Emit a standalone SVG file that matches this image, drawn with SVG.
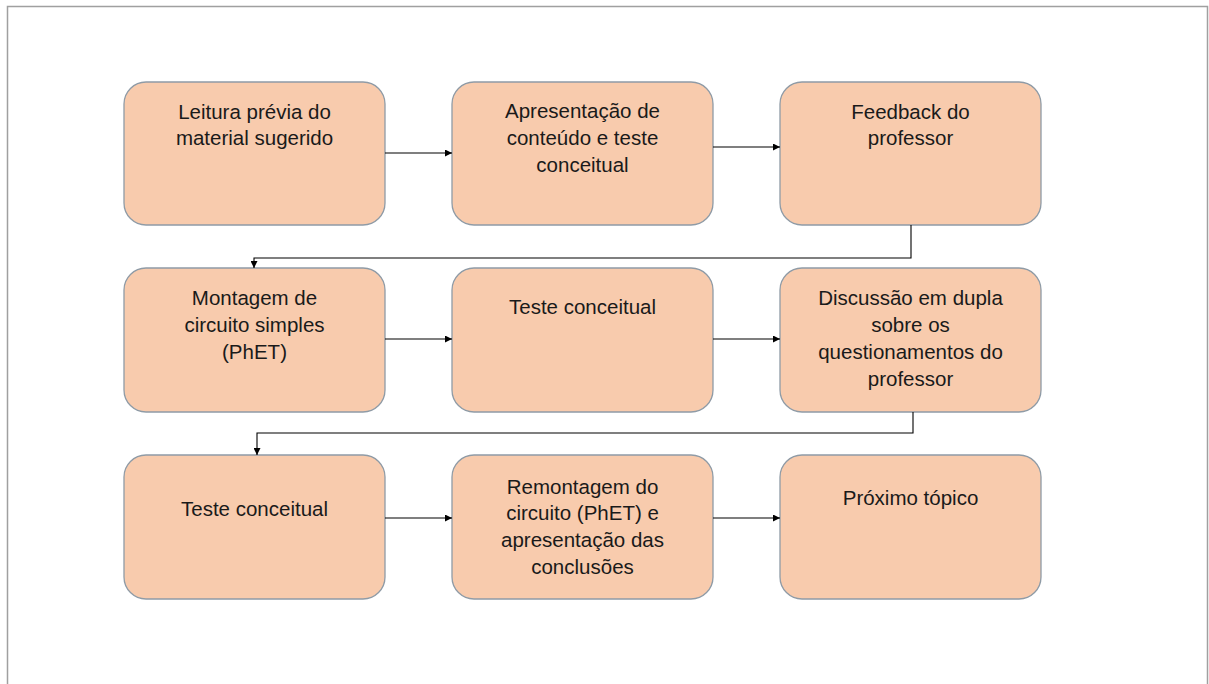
<svg xmlns="http://www.w3.org/2000/svg" width="1209" height="684" viewBox="0 0 1209 684">
<defs>
<style>
.n{fill:#F8CBAD;stroke:#8F9BA6;stroke-width:1.3}
.t{font-family:"Liberation Sans",Arial,sans-serif;font-size:20.5px;fill:#1a1a1a;text-anchor:middle}
.c{fill:none;stroke:#000;stroke-width:1.1}
</style>
<marker id="ah" viewBox="0 0 10 10" refX="10" refY="5" markerWidth="7" markerHeight="7" orient="auto" markerUnits="userSpaceOnUse"><path d="M0,0 L10,5 L0,10 z" fill="#000"/></marker>
</defs>
<rect x="0" y="0" width="1209" height="684" fill="#fff"/>
<path d="M7.5,690 V6.5 H1207.5 V690" fill="none" stroke="#A0A0A0" stroke-width="1.5"/>
<g id="n1"><rect class="n" x="124" y="82" width="261" height="143" rx="22"/><text class="t" x="254.5" y="119">Leitura prévia do</text><text class="t" x="254.5" y="145">material sugerido</text></g>
<g id="n2"><rect class="n" x="452" y="82" width="261" height="143" rx="22"/><text class="t" x="582.5" y="118">Apresentação de</text><text class="t" x="582.5" y="145">conteúdo e teste</text><text class="t" x="582.5" y="172">conceitual</text></g>
<g id="n3"><rect class="n" x="780" y="82" width="261" height="143" rx="22"/><text class="t" x="910.5" y="119">Feedback do</text><text class="t" x="910.5" y="145">professor</text></g>
<g id="n4"><rect class="n" x="124" y="268" width="261" height="144" rx="22"/><text class="t" x="254.5" y="305">Montagem de</text><text class="t" x="254.5" y="332">circuito simples</text><text class="t" x="254.5" y="359">(PhET)</text></g>
<g id="n5"><rect class="n" x="452" y="268" width="261" height="144" rx="22"/><text class="t" x="582.5" y="314">Teste conceitual</text></g>
<g id="n6"><rect class="n" x="780" y="268" width="261" height="144" rx="22"/><text class="t" x="910.5" y="305">Discussão em dupla</text><text class="t" x="910.5" y="332">sobre os</text><text class="t" x="910.5" y="359">questionamentos do</text><text class="t" x="910.5" y="386">professor</text></g>
<g id="n7"><rect class="n" x="124" y="455" width="261" height="144" rx="22"/><text class="t" x="254.5" y="516">Teste conceitual</text></g>
<g id="n8"><rect class="n" x="452" y="455" width="261" height="144" rx="22"/><text class="t" x="582.5" y="494">Remontagem do</text><text class="t" x="582.5" y="520">circuito (PhET) e</text><text class="t" x="582.5" y="547">apresentação das</text><text class="t" x="582.5" y="574">conclusões</text></g>
<g id="n9"><rect class="n" x="780" y="455" width="261" height="144" rx="22"/><text class="t" x="910.5" y="505">Próximo tópico</text></g>
<g id="connectors">
<path class="c" d="M385,153 H452" marker-end="url(#ah)"/>
<path class="c" d="M713,147 H780" marker-end="url(#ah)"/>
<path class="c" d="M911,225 V258 H254 V268" marker-end="url(#ah)"/>
<path class="c" d="M385,339 H452" marker-end="url(#ah)"/>
<path class="c" d="M713,339 H780" marker-end="url(#ah)"/>
<path class="c" d="M913,412 V433 H257 V455" marker-end="url(#ah)"/>
<path class="c" d="M385,518 H452" marker-end="url(#ah)"/>
<path class="c" d="M713,518 H780" marker-end="url(#ah)"/>
</g>
</svg>
